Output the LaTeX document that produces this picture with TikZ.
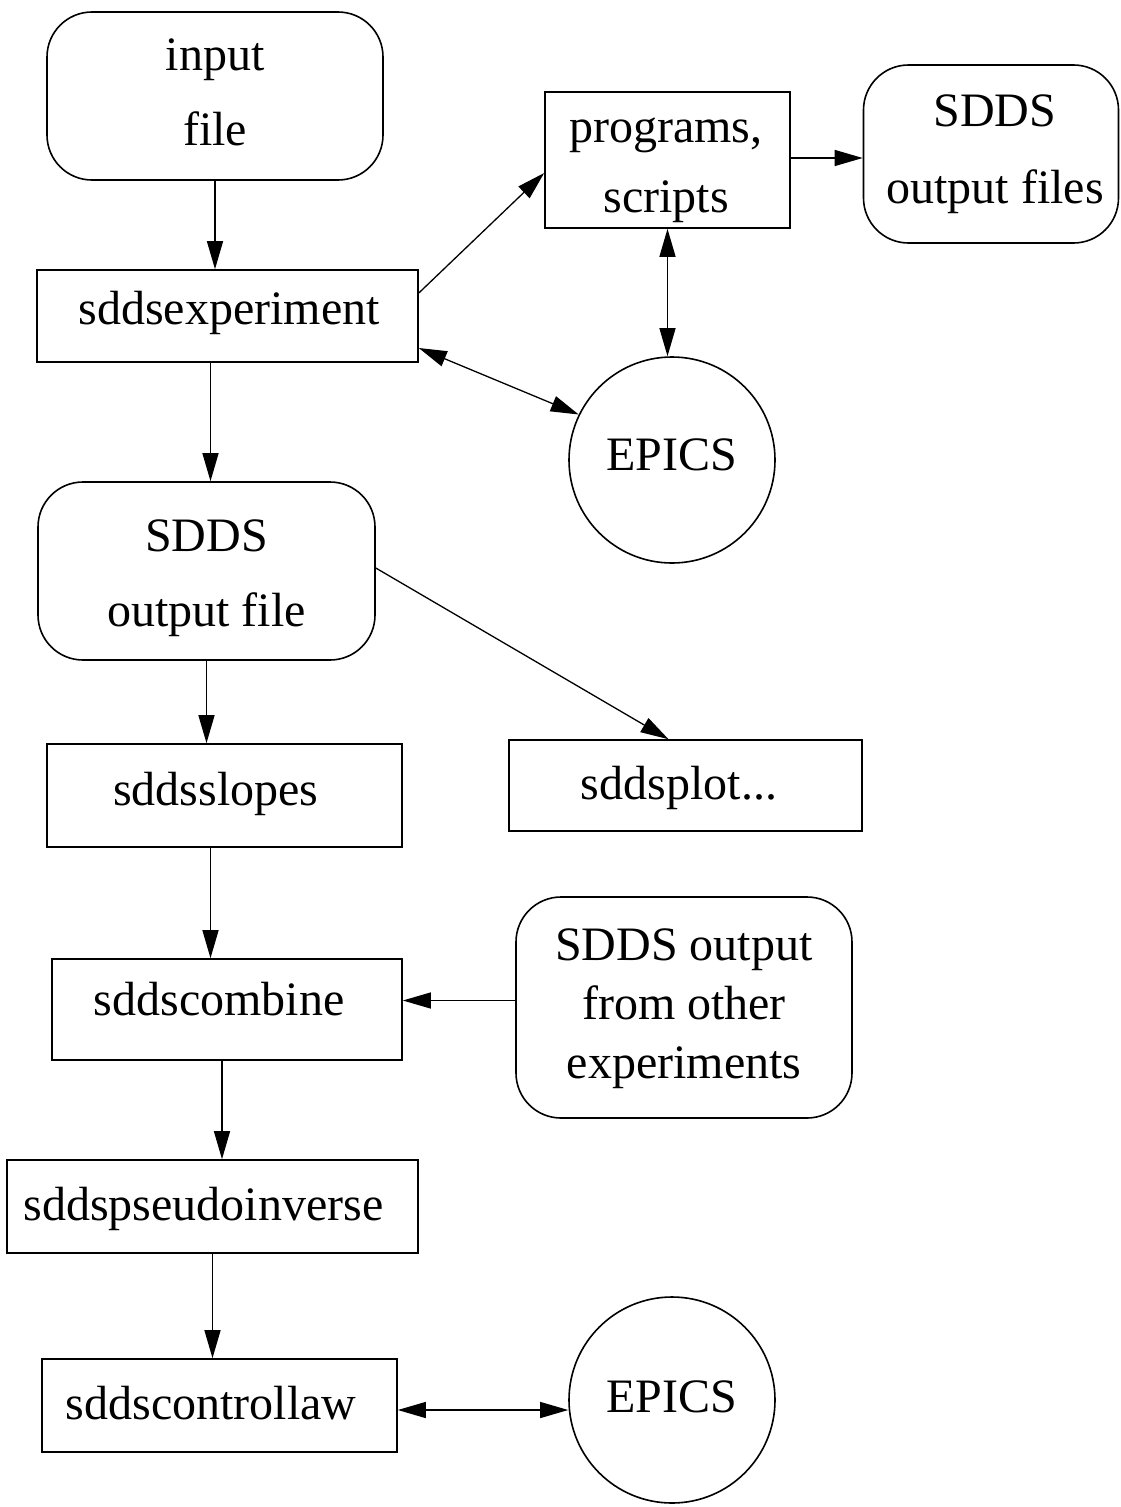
\documentclass[tikz,border=0pt]{standalone}
\usepackage{fontspec}
\setmainfont{Liberation Serif}
\usetikzlibrary{arrows.meta}
\begin{document}
\begin{tikzpicture}[x=1pt,y=-1pt,
  box/.style={draw, line width=1.6pt, rectangle, inner sep=0pt},
  rbox/.style={box, rounded corners=45pt},
  ring/.style={draw, line width=1.6pt, circle, inner sep=0pt, minimum size=206pt},
  txt/.style={inner sep=0pt, align=center, font=\fontsize{48}{#1}\selectfont},
  txt/.default=58pt,
  conn/.style={line width=1.3pt, -{Triangle[length=28pt,width=16pt]}},
  biconn/.style={line width=1.3pt, {Triangle[length=28pt,width=16pt]}-{Triangle[length=28pt,width=16pt]}}
]
\useasboundingbox (0,0) rectangle (1120,1507);

% shapes
\node[rbox, minimum width=336pt, minimum height=168pt] (inp) at (215,96) {};
\node[box, minimum width=381pt, minimum height=92pt] (exp) at (227.5,316) {};
\node[box, minimum width=245pt, minimum height=136pt] (prog) at (667.5,160) {};
\node[rbox, minimum width=255pt, minimum height=178pt] (sout) at (991,154) {};
\node[ring] (ep1) at (672,460) {};
\node[rbox, minimum width=337pt, minimum height=178pt] (sof) at (206.5,571) {};
\node[box, minimum width=355pt, minimum height=103pt] (slo) at (224.5,795.5) {};
\node[box, minimum width=353pt, minimum height=91pt] (plot) at (685.5,785.5) {};
\node[box, minimum width=350pt, minimum height=101pt] (comb) at (227,1009.5) {};
\node[rbox, minimum width=336pt, minimum height=221pt] (other) at (684,1007.5) {};
\node[box, minimum width=411pt, minimum height=93pt] (pinv) at (212.5,1206.5) {};
\node[box, minimum width=355pt, minimum height=93pt] (ctl) at (219.5,1405.5) {};
\node[ring] (ep2) at (672,1400) {};

% texts
\node[txt=75pt] (inpT) at (215,92) {input\\file};
\node[txt] (expT) at (229,313) {sddsexperiment};
\node[txt=70pt] (progT) at (666,170) {programs,\\scripts};
\node[txt=77pt] (soutT) at (995,154) {SDDS\\output files};
\node[txt] (ep1T) at (672,455) {EPICS};
\node[txt=75pt] (sofT) at (206.5,578) {SDDS\\output file};
\node[txt] (sloT) at (216,793.5) {sddsslopes};
\node[txt] (plotT) at (679,787.5) {sddsplot...};
\node[txt] (combT) at (219,999.5) {sddscombine};
\node[txt=59pt] (otherT) at (684,1008.5) {SDDS output\\from other\\experiments};
\node[txt] (pinvT) at (203.5,1208.5) {sddspseudoinverse};
\node[txt] (ctlT) at (211,1403.5) {sddscontrollaw};
\node[txt] (ep2T) at (672,1397) {EPICS};

\coordinate (ctlout) at ([yshift=-4.5pt]ctl.east);

% connectors
\draw[conn] (inp.south) -- (inp.south |- exp.north);
\draw[conn] ([yshift=23pt]exp.east) -- ([yshift=-13pt]prog.west);
\draw[conn] ([yshift=2pt]prog.east) -- ([yshift=2pt]prog.east -| sout.west);
\draw[biconn] (prog.south) -- (prog.south |- ep1.north);
\draw[biconn] ([yshift=-32pt]exp.east) -- (ep1.154);
\draw[conn] ([xshift=-17pt]exp.south) -- ([xshift=-17pt]exp.south |- sof.north);
\draw[conn] ([yshift=3pt]sof.east) -- ([xshift=-17pt]plot.north);
\draw[conn] (sof.south) -- (sof.south |- slo.north);
\draw[conn] ([xshift=-14pt]slo.south) -- ([xshift=-14pt]slo.south |- comb.north);
\draw[conn] ([yshift=7pt]other.west) -- ([yshift=7pt]other.west -| comb.east);
\draw[conn] ([xshift=-5pt]comb.south) -- ([xshift=-5pt]comb.south |- pinv.north);
\draw[conn] (pinv.south) -- (pinv.south |- ctl.north);
\draw[biconn] (ctlout) -- (ctlout -| ep2.west);
\end{tikzpicture}
\end{document}
